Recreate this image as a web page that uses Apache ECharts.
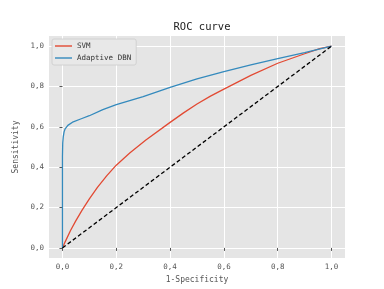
<!DOCTYPE html>
<html><head><meta charset="utf-8">
<script src="https://cdn.jsdelivr.net/npm/echarts@6/dist/echarts.min.js"></script>
<style>html,body{margin:0;padding:0;background:#fff}#c{width:384px;height:289px}</style>
</head><body><div id="c"></div>
<script>
const svmFpr = [0, 0.01, 0.03, 0.05, 0.073, 0.1, 0.13, 0.165, 0.2, 0.25, 0.31, 0.4, 0.45, 0.5, 0.55, 0.6, 0.7, 0.8, 0.9, 0.956, 1.0];
const svmTpr = [0, 0.03, 0.086, 0.135, 0.187, 0.243, 0.3, 0.358, 0.41, 0.47, 0.535, 0.622, 0.669, 0.713, 0.752, 0.787, 0.855, 0.915, 0.962, 0.988, 1.0];
const dbnFpr = [0, 0, 0.001, 0.003, 0.006, 0.01, 0.02, 0.04, 0.07, 0.1, 0.15, 0.2, 0.3, 0.4, 0.5, 0.6, 0.7, 0.8, 0.9, 1.0];
const dbnTpr = [0, 0.45, 0.52, 0.55, 0.575, 0.59, 0.607, 0.625, 0.64, 0.655, 0.685, 0.71, 0.75, 0.795, 0.838, 0.874, 0.907, 0.938, 0.968, 1.0];
const diagX = [0, 1];
const diagY = [0, 1];
const tickVals = [0, 0.2, 0.4, 0.6, 0.8, 1.0];
const seriesNames = ['SVM', 'Adaptive DBN'];
const titleText = 'ROC curve';
const xName = '1-Specificity';
const yName = 'Sensitivity';

const FONT = 'DejaVu Sans Mono';
const zip = (a, b) => a.map((v, i) => [v, b[i]]);
const fmt = v => v.toFixed(1).replace('.', ',');

function axis(name, gap, rot) {
  return {
    type: 'value', min: -0.05, max: 1.05,
    name: name, nameLocation: 'middle', nameGap: gap, nameRotate: rot,
    nameTextStyle: { fontFamily: FONT, fontSize: 8, color: '#555' },
    axisLine: { show: false },
    axisTick: { show: true, length: 3, customValues: tickVals, lineStyle: { color: '#555' } },
    axisLabel: { customValues: tickVals, formatter: fmt, fontFamily: FONT, fontSize: 7.5, color: '#555', margin: 5 },
    splitLine: { show: true, lineStyle: { color: '#fff', width: 1 } }
  };
}

const chart = echarts.init(document.getElementById('c'));
chart.setOption({
  animation: false,
  backgroundColor: '#fff',
  title: { text: titleText, left: 197, textAlign: 'center', top: 17,
    textStyle: { fontFamily: FONT, fontSize: 10.5, fontWeight: 'normal', color: '#222' } },
  grid: { left: 49, right: 39, top: 36, bottom: 31, show: true, backgroundColor: '#e5e5e5', borderWidth: 0 },
  legend: {
    data: seriesNames, orient: 'vertical', left: 52, top: 39,
    icon: 'rect', itemWidth: 17, itemHeight: 1.4, itemGap: 4,
    padding: [3, 5, 3, 3],
    backgroundColor: '#e8e8e8', borderColor: '#cccccc', borderWidth: 0.8, borderRadius: 2,
    textStyle: { fontFamily: FONT, fontSize: 7.5, color: '#333' }
  },
  xAxis: axis(xName, 13, 0),
  yAxis: axis(yName, 28, 90),
  series: [
    { name: seriesNames[0], type: 'line', data: zip(svmFpr, svmTpr), symbol: 'none',
      lineStyle: { color: '#E24A33', width: 1.3 }, itemStyle: { color: '#E24A33' } },
    { name: seriesNames[1], type: 'line', data: zip(dbnFpr, dbnTpr), symbol: 'none',
      lineStyle: { color: '#348ABD', width: 1.3 }, itemStyle: { color: '#348ABD' } },
    { name: 'diag', type: 'line', data: zip(diagX, diagY), symbol: 'none',
      lineStyle: { color: '#000', width: 1.3, type: [4, 2.5] }, z: 3 }
  ]
});
</script></body></html>
